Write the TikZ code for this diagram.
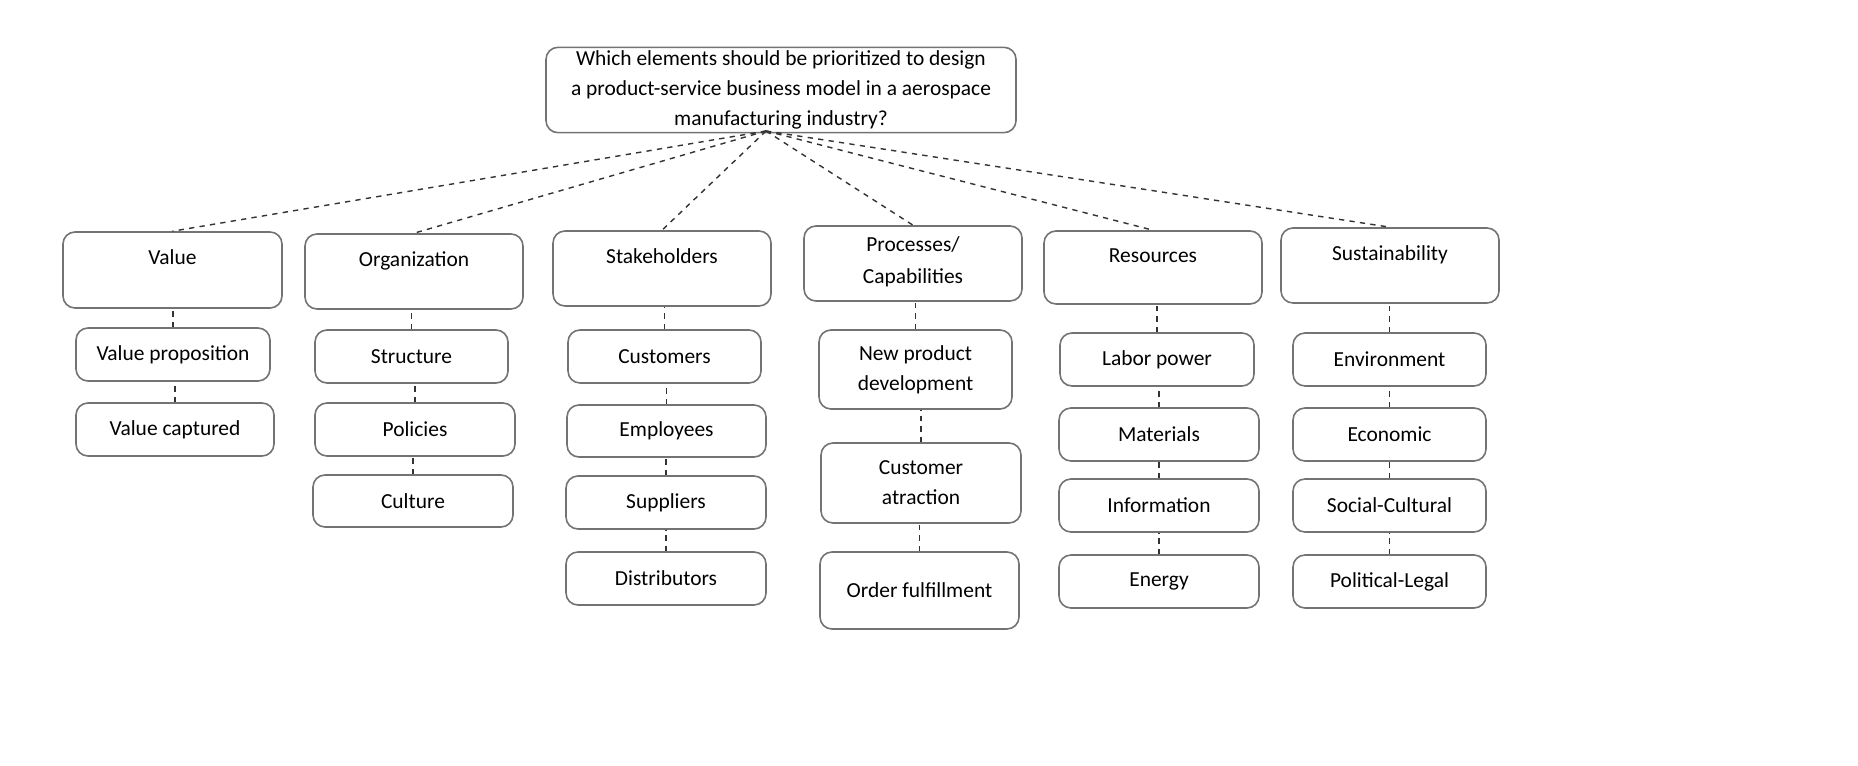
\documentclass[tikz,border=0pt]{standalone}
\usepackage{fontspec}
\setmainfont{Carlito}
\begin{document}
\begin{tikzpicture}[x=0.02cm,y=-0.02cm,
 box/.style={draw=black!55,line width=0.9pt,rounded corners=0.24cm,align=center,font=\fontsize{12.2}{17}\selectfont,inner sep=2pt},
 dl/.style={draw=black!80,dashed,line width=0.8pt}]
\newcommand\bx[7][]{\pgfmathsetmacro\w{(#4-#2)*0.02}\pgfmathsetmacro\h{(#5-#3)*0.02}\node[box,minimum width=\w cm,minimum height=\h cm,#1] (#6) at ({(#2+#4)/2},{(#3+#5)/2}) {#7};}
\newcommand\hd[7]{\pgfmathsetmacro\w{(#3-#1)*0.02}\pgfmathsetmacro\h{(#4-#2)*0.02}\node[box,minimum width=\w cm,minimum height=\h cm,label={[anchor=north,align=center,font=\fontsize{12.2}{18.5}\selectfont,yshift=-#6 cm]north:#7}] (#5) at ({(#1+#3)/2},{(#2+#4)/2}) {};}
\bx{546}{50}{1016}{130}{q}{Which elements should be prioritized to design\\a product-service business model in a aerospace\\manufacturing industry?}
\hd{63}{232}{282}{308}{h1}{0.24}{Value}
\hd{305}{234}{523}{309}{h2}{0.24}{Organization}
\hd{553}{231}{771}{306}{h3}{0.24}{Stakeholders}
\hd{804}{226}{1022}{301}{h4}{0.1}{Processes/\\Capabilities}
\hd{1044}{231}{1262}{304}{h5}{0.24}{Resources}
\hd{1281}{228}{1499}{303}{h6}{0.24}{Sustainability}
\bx{76}{328}{270}{381}{a1}{Value proposition}
\bx{76}{403}{274}{456}{a2}{Value captured}
\bx{315}{330}{508}{383}{b1}{Structure}
\bx{315}{403}{515}{456}{b2}{Policies}
\bx{313}{475}{513}{527}{b3}{Culture}
\bx{568}{330}{761}{383}{c1}{Customers}
\bx{567}{405}{766}{457}{c2}{Employees}
\bx{566}{476}{766}{529}{c3}{Suppliers}
\bx{566}{552}{766}{605}{c4}{Distributors}
\bx{819}{330}{1012}{409}{d1}{New product\\development}
\bx{821}{443}{1021}{523}{d2}{Customer\\atraction}
\bx{820}{552}{1019}{629}{d3}{Order fulfillment}
\bx{1060}{333}{1254}{386}{e1}{Labor power}
\bx{1059}{408}{1259}{461}{e2}{Materials}
\bx{1059}{479}{1259}{532}{e3}{Information}
\bx{1059}{555}{1259}{608}{e4}{Energy}
\bx{1293}{333}{1486}{386}{f1}{Environment}
\bx{1293}{408}{1486}{461}{f2}{Economic}
\bx{1293}{479}{1486}{532}{f3}{Social-Cultural}
\bx{1293}{555}{1486}{608}{f4}{Political-Legal}
\coordinate (qb) at (766,131);
\foreach \h in {h1,h2,h3,h4,h5,h6} \draw[dl] (qb) -- (\h.north);
\foreach \a/\b in {h1/a1,a1/a2,h2/b1,b1/b2,b2/b3,h3/c1,c1/c2,c2/c3,c3/c4,h4/d1,d1/d2,d2/d3,h5/e1,e1/e2,e2/e3,e3/e4,h6/f1,f1/f2,f2/f3,f3/f4}
 \draw[dl] (\b.north) -- (\b.north |- \a.south);
\pgfresetboundingbox
\useasboundingbox (0,0) rectangle (1858,766);
\end{tikzpicture}
\end{document}
